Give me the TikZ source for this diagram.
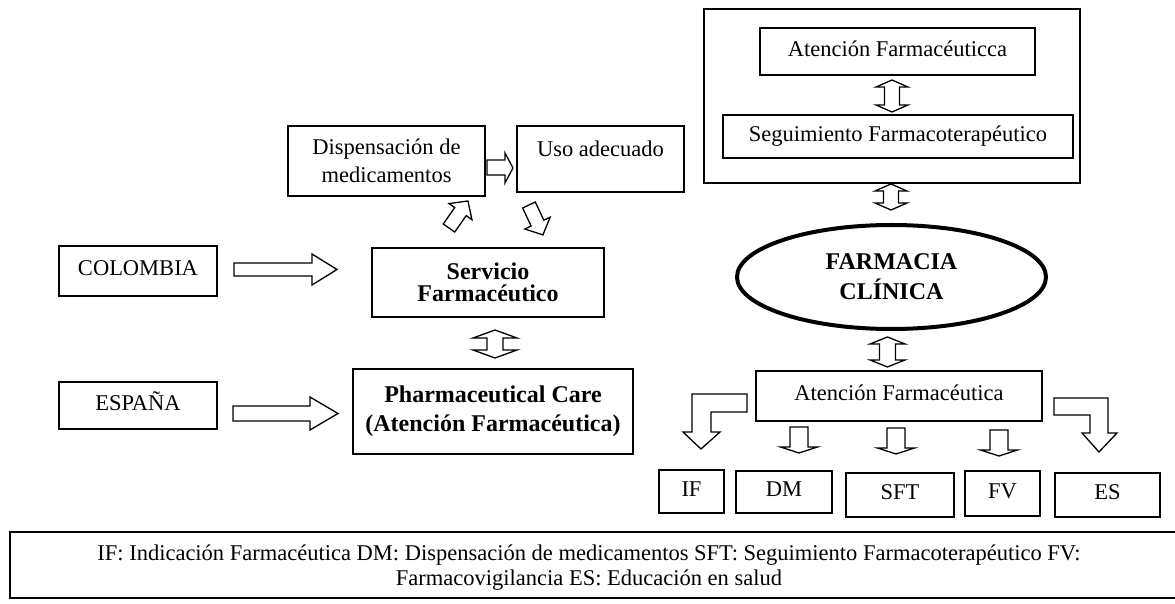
\documentclass[tikz,border=0pt]{standalone}
\usepackage{fontspec}
\setmainfont{Liberation Serif}
\usetikzlibrary{shapes.geometric}
\begin{document}
\begin{tikzpicture}[x=0.5pt,y=-0.5pt,
  box/.style={draw,line width=0.65pt,inner sep=0pt,align=center,font=\fontsize{11.25}{14}\selectfont},
  onebox/.style={box,text height=7.8pt,text depth=2.8pt},
  boldbox/.style={box,font=\bfseries\fontsize{12}{14.5}\selectfont},
  fat/.style={draw,line width=0.65pt,line join=miter}]
\useasboundingbox (0,0) rectangle (1175,604);
% cajas de la izquierda
\node[onebox,minimum width=79pt,minimum height=25pt] (colombia) at (138,271) {COLOMBIA};
\node[onebox,minimum width=79pt,minimum height=23.5pt] (espana) at (138,405.5) {ESPAÑA};
\node[box,minimum width=98.5pt,minimum height=35pt] (dispensa) at (386.5,161) {Dispensación de\\medicamentos};
\node[box,text height=8pt,text depth=10pt,minimum width=83.5pt,minimum height=33pt] (uso) at (600.5,159) {Uso adecuado};
\node[boldbox,font=\bfseries\fontsize{12}{11}\selectfont,minimum width=116pt,minimum height=34.5pt] (servicio) at (488,282.5) {Servicio\\Farmacéutico};
\node[boldbox,minimum width=140pt,minimum height=42.5pt] (pharma) at (493,411.5) {Pharmaceutical Care\\(Atención Farmacéutica)};
% cajas de la derecha
\node[draw,line width=0.65pt,minimum width=188pt,minimum height=87pt] (marco) at (892,96) {};
\node[onebox,minimum width=137.5pt,minimum height=23.5pt] (atencion) at (897.5,51.5) {Atención Farmacéuticca};
\node[onebox,minimum width=175pt,minimum height=21.5pt] (seguimiento) at (898,136.5) {Seguimiento Farmacoterapéutico};
\node[draw,ellipse,line width=2pt,inner sep=0pt,minimum width=154.5pt,minimum height=52pt,align=center,font=\bfseries\fontsize{12}{15}\selectfont] (clinica) at (891.5,277) {FARMACIA\\CLÍNICA};
\node[onebox,minimum width=143pt,minimum height=25pt] (atencionb) at (899,396) {Atención Farmacéutica};
\node[onebox,minimum width=32.5pt,minimum height=21.5pt] (if) at (691.5,491.5) {IF};
\node[onebox,minimum width=48pt,minimum height=21pt] (dm) at (784,492) {DM};
\node[onebox,minimum width=54pt,minimum height=22pt] (sft) at (900,495) {SFT};
\node[onebox,minimum width=37.5pt,minimum height=22.5pt] (fv) at (1002.5,493.5) {FV};
\node[onebox,minimum width=52.5pt,minimum height=22pt] (es) at (1107.5,495) {ES};
% leyenda
\draw[line width=0.65pt] (10,532) rectangle (1200,598);
\node[align=center,font=\fontsize{11.25}{12.5}\selectfont] (leyenda) at (589,568) {IF: Indicación Farmacéutica DM: Dispensación de medicamentos SFT: Seguimiento Farmacoterapéutico FV:\\Farmacovigilancia ES: Educación en salud};
% flechas anchas
\draw[fat] (234,263)--(312,263)--(312,254)--(337,269.5)--(312,285)--(312,276)--(234,276)--cycle;
\draw[fat] (233,406)--(310,406)--(310,397)--(338,413.5)--(310,430)--(310,421)--(233,421)--cycle;
\draw[fat] (487,160)--(505,160)--(505,153)--(513,168)--(505,183)--(505,175)--(487,175)--cycle;
\draw[fat,shift={(449,228)},rotate=55] (0,-7)--(20,-7)--(20,-14)--(33,0)--(20,14)--(20,7)--(0,7)--cycle;
\draw[fat,shift={(529,205)},rotate=-65] (0,-7)--(20,-7)--(20,-14)--(33,0)--(20,14)--(20,7)--(0,7)--cycle;
% flechas dobles
\draw[fat,shift={(495,330)}] (0,0)--(22,8)--(8,8)--(8,20)--(22,20)--(0,28)--(-22,20)--(-8,20)--(-8,8)--(-22,8)--cycle;
\draw[fat,shift={(892,80)}] (0,0)--(16,7)--(7.5,7)--(7.5,25)--(16,25)--(0,32)--(-16,25)--(-7.5,25)--(-7.5,7)--(-16,7)--cycle;
\draw[fat,shift={(891,184)}] (0,0)--(16,7)--(7.5,7)--(7.5,19)--(16,19)--(0,26)--(-16,19)--(-7.5,19)--(-7.5,7)--(-16,7)--cycle;
\draw[fat,shift={(887.5,337)}] (0,0)--(17.5,7)--(8,7)--(8,23)--(17.5,23)--(0,30)--(-17.5,23)--(-8,23)--(-8,7)--(-17.5,7)--cycle;
% flechas hacia las siglas
\draw[fat] (747,394)--(692,394)--(692,432)--(683,432)--(701,449)--(720,432)--(711,432)--(711,412)--(747,412)--cycle;
\draw[fat,shift={(799,427)}] (-9,0)--(9,0)--(9,20)--(18.5,20)--(0,26)--(-18.5,20)--(-9,20)--cycle;
\draw[fat,shift={(896,428)}] (-9,0)--(9,0)--(9,20)--(18.5,20)--(0,26)--(-18.5,20)--(-9,20)--cycle;
\draw[fat,shift={(999,430)}] (-9,0)--(9,0)--(9,20)--(18.5,20)--(0,26)--(-18.5,20)--(-9,20)--cycle;
\draw[fat] (1054,398)--(1108,398)--(1108,433)--(1117,433)--(1099,452)--(1082,433)--(1090,433)--(1090,415)--(1054,415)--cycle;
\end{tikzpicture}
\end{document}
